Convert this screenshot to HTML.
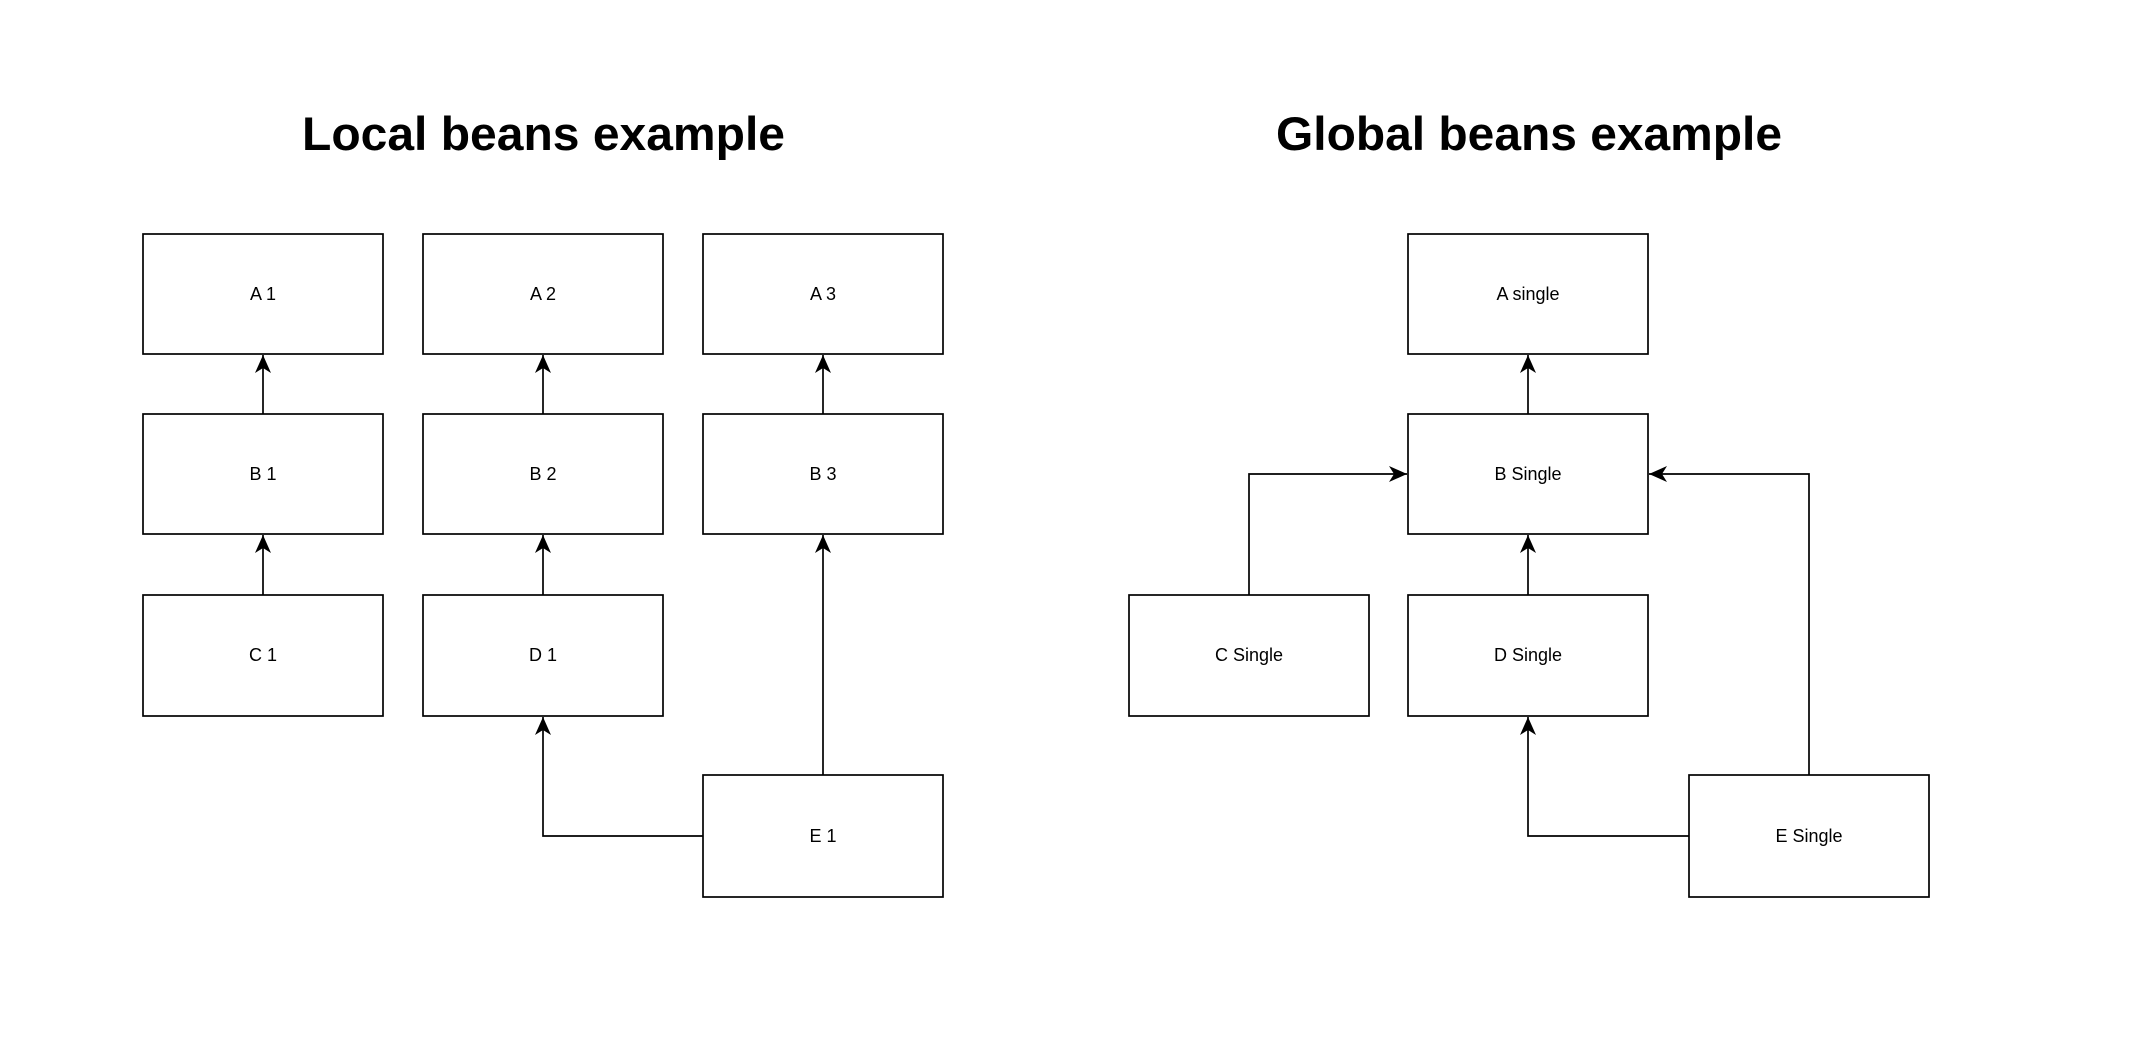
<!DOCTYPE html>
<html><head><meta charset="utf-8"><style>
html,body{margin:0;padding:0;background:#fff;}
svg{display:block;}
text{font-family:"Liberation Sans",Arial,sans-serif;fill:#000;}
.t{font-size:18px;text-anchor:middle;dominant-baseline:central;}
.h{font-size:47px;font-weight:bold;}
rect{fill:#fff;stroke:#000;stroke-width:1.7;}
path.l{fill:none;stroke:#000;stroke-width:1.7;}
</style></head><body>
<svg width="2136" height="1050" viewBox="0 0 2136 1050" xmlns="http://www.w3.org/2000/svg">
<defs>
<marker id="ar" viewBox="0 0 20 20" refX="18" refY="10" markerWidth="20" markerHeight="20" markerUnits="userSpaceOnUse" orient="auto">
<path d="M0,2 L18,10 L0,18 L5,10 Z" fill="#000"/>
</marker>
</defs>
<text class="h" x="302" y="150" textLength="483" lengthAdjust="spacingAndGlyphs">Local beans example</text>
<text class="h" x="1276" y="150" textLength="506" lengthAdjust="spacingAndGlyphs">Global beans example</text>

<!-- Local -->
<rect x="143" y="234" width="240" height="120"/><text class="t" x="263" y="294">A 1</text>
<rect x="423" y="234" width="240" height="120"/><text class="t" x="543" y="294">A 2</text>
<rect x="703" y="234" width="240" height="120"/><text class="t" x="823" y="294">A 3</text>
<rect x="143" y="414" width="240" height="120"/><text class="t" x="263" y="474">B 1</text>
<rect x="423" y="414" width="240" height="120"/><text class="t" x="543" y="474">B 2</text>
<rect x="703" y="414" width="240" height="120"/><text class="t" x="823" y="474">B 3</text>
<rect x="143" y="595" width="240" height="121"/><text class="t" x="263" y="655">C 1</text>
<rect x="423" y="595" width="240" height="121"/><text class="t" x="543" y="655">D 1</text>
<rect x="703" y="775" width="240" height="122"/><text class="t" x="823" y="836">E 1</text>

<path class="l" d="M263,414 V355" marker-end="url(#ar)"/>
<path class="l" d="M543,414 V355" marker-end="url(#ar)"/>
<path class="l" d="M823,414 V355" marker-end="url(#ar)"/>
<path class="l" d="M263,595 V535" marker-end="url(#ar)"/>
<path class="l" d="M543,595 V535" marker-end="url(#ar)"/>
<path class="l" d="M823,775 V535" marker-end="url(#ar)"/>
<path class="l" d="M703,836 H543 V717" marker-end="url(#ar)"/>

<!-- Global -->
<rect x="1408" y="234" width="240" height="120"/><text class="t" x="1528" y="294">A single</text>
<rect x="1408" y="414" width="240" height="120"/><text class="t" x="1528" y="474">B Single</text>
<rect x="1129" y="595" width="240" height="121"/><text class="t" x="1249" y="655">C Single</text>
<rect x="1408" y="595" width="240" height="121"/><text class="t" x="1528" y="655">D Single</text>
<rect x="1689" y="775" width="240" height="122"/><text class="t" x="1809" y="836">E Single</text>

<path class="l" d="M1528,414 V355" marker-end="url(#ar)"/>
<path class="l" d="M1528,595 V535" marker-end="url(#ar)"/>
<path class="l" d="M1249,595 V474 H1407" marker-end="url(#ar)"/>
<path class="l" d="M1809,775 V474 H1649" marker-end="url(#ar)"/>
<path class="l" d="M1689,836 H1528 V717" marker-end="url(#ar)"/>
</svg>
</body></html>
